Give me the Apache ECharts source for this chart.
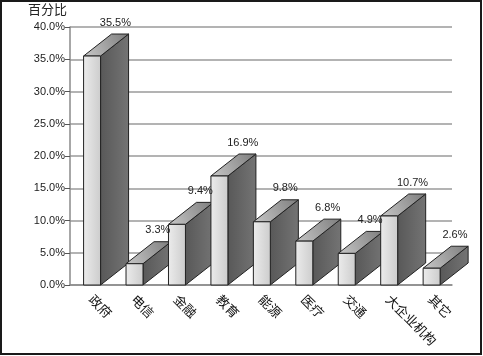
<!DOCTYPE html>
<html><head><meta charset="utf-8">
<script src="https://cdn.jsdelivr.net/npm/echarts@6/dist/echarts.min.js"></script>
<style>html,body{margin:0;padding:0;background:#fff}#c{width:483px;height:356px}</style>
</head><body><div id="c"></div>
<script>
const categories = ['政府','电信','金融','教育','能源','医疗','交通','大企业机构','其它'];
const values = [35.5, 3.3, 9.4, 16.9, 9.8, 6.8, 4.9, 10.7, 2.6];
const yTicks = {min: 0, max: 40, interval: 5};
const yName = '百分比';

const chart = echarts.init(document.getElementById('c'), null, {renderer: 'canvas'});
const data = values.map((v, i) => [i, v]);

function renderItem(params, api) {
  const i = api.value(0), v = api.value(1);
  const top = api.coord([i, v]);
  const base = api.coord([i, 0]);
  const band = api.size([1, 0])[0];
  const cx = top[0] + 0.02 * band;
  const hw = 0.2 * band;
  const dx = 0.66 * band, dy = 22;
  const x0 = cx - hw, x1 = cx + hw, yT = top[1], yB = base[1];
  const edge = '#222';
  return {
    type: 'group',
    children: [
      { type: 'polygon', shape: {points: [[x1, yT], [x1 + dx, yT - dy], [x1 + dx, yB - dy], [x1, yB]]},
        style: {fill: new echarts.graphic.LinearGradient(0, 0, 1, 0, [{offset: 0, color: '#585858'}, {offset: 1, color: '#747474'}]), stroke: edge, lineWidth: 1} },
      { type: 'polygon', shape: {points: [[x0, yT], [x0 + dx, yT - dy], [x1 + dx, yT - dy], [x1, yT]]},
        style: {fill: new echarts.graphic.LinearGradient(0, 1, 1, 0, [{offset: 0, color: '#c8c8c8'}, {offset: 1, color: '#7c7c7c'}]), stroke: edge, lineWidth: 1} },
      { type: 'rect', shape: {x: x0, y: yT, width: x1 - x0, height: yB - yT},
        style: {fill: new echarts.graphic.LinearGradient(0, 0, 1, 0, [{offset: 0, color: '#ececec'}, {offset: 1, color: '#cccccc'}]), stroke: edge, lineWidth: 1} },
      { type: 'text', z2: 100, style: {text: v.toFixed(1) + '%', x: cx + 0.55 * band, y: yT - dy - 6, align: 'center', verticalAlign: 'bottom',
        font: '11px "Liberation Sans", Arial, sans-serif', fill: '#222'} }
    ]
  };
}

chart.setOption({
  animation: false,
  backgroundColor: '#fff',
  grid: {left: 70, right: 31, top: 27, bottom: 71},
  graphic: [
    {type: 'rect', shape: {x: 1, y: 1, width: 480, height: 353}, style: {fill: 'none', stroke: '#1a1a1a', lineWidth: 2}, z: 100},
    {type: 'text', left: 28, top: 3, style: {text: yName, font: '13px "Noto Sans CJK SC", sans-serif', fill: '#222'}}
  ],
  xAxis: {
    type: 'category', data: categories,
    axisLine: {lineStyle: {color: '#8a8a8a', width: 1.5}},
    axisTick: {show: false},
    axisLabel: {rotate: -45, margin: 12, fontSize: 13, color: '#111', fontFamily: '"Noto Sans CJK SC", sans-serif', interval: 0}
  },
  yAxis: {
    type: 'value', min: yTicks.min, max: yTicks.max, interval: yTicks.interval,
    axisLine: {show: true, lineStyle: {color: '#8a8a8a', width: 1.5}},
    axisTick: {show: true, length: 5, lineStyle: {color: '#555'}},
    axisLabel: {formatter: v => v.toFixed(1) + '%', fontSize: 11, color: '#222', fontFamily: '"Liberation Sans", Arial, sans-serif', margin: 5},
    splitLine: {lineStyle: {color: '#9a9a9a', width: 1.5}}
  },
  series: [{type: 'custom', renderItem: renderItem, data: data, clip: false}]
});
</script></body></html>
